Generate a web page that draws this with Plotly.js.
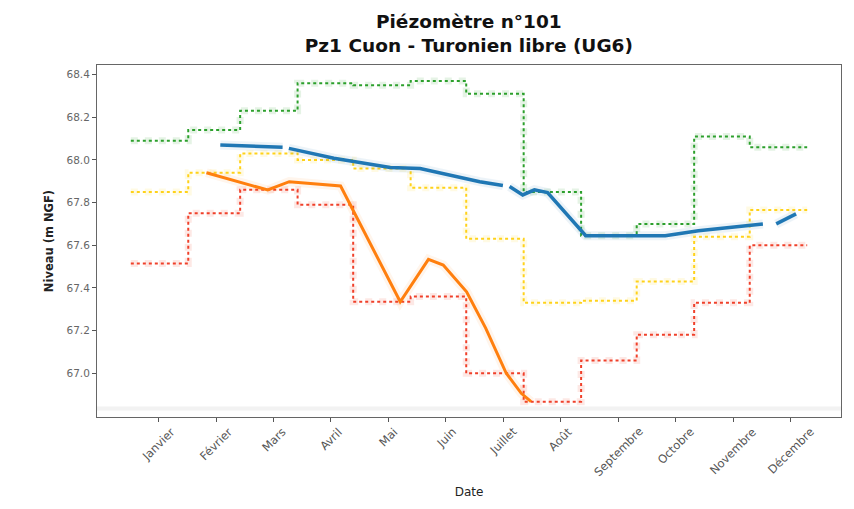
<!DOCTYPE html>
<html>
<head>
<meta charset="utf-8">
<script src="https://cdn.plot.ly/plotly-3.0.1.min.js"></script>
<style>html,body{margin:0;padding:0;background:#fff;}#chart{width:854px;height:509px;}</style>
</head>
<body>
<div id="chart"></div>
<script>
// Day-of-year (0 = 1 January) boundaries of each month
const monthStarts = [0, 31, 59, 90, 120, 151, 181, 212, 243, 273, 304, 334, 365];
const monthLabels = ["Janvier", "Février", "Mars", "Avril", "Mai", "Juin", "Juillet", "Août", "Septembre", "Octobre", "Novembre", "Décembre"];
const tickDays = [15, 46, 77, 108, 139, 170, 201, 232, 263, 294, 325, 356];

// Monthly reference levels (m NGF)
const greenLevels  = [68.09, 68.14, 68.23, 68.36, 68.35, 68.37, 68.31, 67.85, 67.645, 67.70, 68.11, 68.06];
const yellowLevels = [67.85, 67.94, 68.03, 68.00, 67.96, 67.87, 67.63, 67.33, 67.34, 67.43, 67.64, 67.765];
const redLevels    = [67.515, 67.75, 67.86, 67.79, 67.335, 67.36, 67.00, 66.867, 67.06, 67.18, 67.33, 67.60];

// Current-year measurements (blue) — null marks a gap
const blueDays   = [48.3, 81.9, 83.6, 85.3, 109.6, 140.0, 156.1, 188.3, 200.8, 202.6, 204.4, 211.5, 217.8, 224.9, 245.5, 288.4, 306.3, 320.6, 341.1, 344.7, 348.3, 359.0];
const blueLevels = [68.07, 68.059, null, 68.054, 68.008, 67.965, 67.96, 67.898, 67.88, null, 67.875, 67.836, 67.86, 67.847, 67.645, 67.645, 67.668, 67.682, 67.70, null, 67.70, 67.747];

// Previous-year measurements (orange)
const orangeDays   = [40.8, 73.9, 85.5, 113.2, 145.4, 160.6, 168.6, 181.2, 191.5, 202.6, 210.7, 216.0];
const orangeLevels = [67.94, 67.859, 67.898, 67.878, 67.335, 67.534, 67.507, 67.382, 67.212, 67.0, 66.906, 66.867];

// Faint reference line near the bottom
const baseLevel = 66.835;

const stepY = v => v.concat([v[v.length - 1]]);

function stepTraces(levels, color) {
  return [
    {x: monthStarts, y: stepY(levels), mode: "lines", line: {shape: "hv", color: color, width: 7, dash: "dot"}, opacity: 0.12, hoverinfo: "skip", showlegend: false},
    {x: monthStarts, y: stepY(levels), mode: "lines", line: {shape: "hv", color: color, width: 2, dash: "dot"}, showlegend: false}
  ];
}

const traces = [
  {x: [-18.25, 383.25], y: [baseLevel, baseLevel], mode: "lines", line: {color: "#f2f2f2", width: 4}, hoverinfo: "skip", showlegend: false},
  ...stepTraces(greenLevels, "#2ca02c"),
  ...stepTraces(yellowLevels, "#ffd21a"),
  ...stepTraces(redLevels, "#f0402a"),
  {x: orangeDays, y: orangeLevels, mode: "lines", line: {color: "#ff7f0e", width: 9}, opacity: 0.08, hoverinfo: "skip", showlegend: false},
  {x: orangeDays, y: orangeLevels, mode: "lines", line: {color: "#ff7f0e", width: 3}, showlegend: false},
  {x: blueDays, y: blueLevels, mode: "lines", connectgaps: false, line: {color: "#1f77b4", width: 9}, opacity: 0.08, hoverinfo: "skip", showlegend: false},
  {x: blueDays, y: blueLevels, mode: "lines", connectgaps: false, line: {color: "#1f77b4", width: 3.5}, showlegend: false}
];

const annotations = monthLabels.map((m, i) => ({
  x: tickDays[i], y: 0, xref: "x", yref: "paper",
  text: m, showarrow: false, textangle: -45,
  xanchor: "center", yanchor: "top", yshift: -5,
  font: {family: "DejaVu Sans", size: 11.5, color: "#555"}
}));

const layout = {
  width: 854, height: 509,
  margin: {l: 97, r: 13, t: 65, b: 92},
  paper_bgcolor: "#fff", plot_bgcolor: "#fff",
  font: {family: "DejaVu Sans", color: "#222"},
  title: {
    text: "<b>Piézomètre n°101</b><br><b>Pz1 Cuon - Turonien libre (UG6)</b>",
    x: 0.549, xanchor: "center", yref: "container", y: 0.945, yanchor: "top",
    font: {family: "DejaVu Sans", size: 18.5, color: "#111"}
  },
  xaxis: {
    range: [-18.25, 383.25], tickvals: tickDays, showticklabels: false,
    ticks: "outside", ticklen: 4, tickcolor: "#555",
    showgrid: false, zeroline: false,
    showline: true, mirror: true, linecolor: "#666", linewidth: 1,
    title: {text: "Date", font: {family: "DejaVu Sans", size: 12, color: "#222"}, standoff: 66}
  },
  yaxis: {
    range: [66.795, 68.445], tickvals: [67.0, 67.2, 67.4, 67.6, 67.8, 68.0, 68.2, 68.4],
    ticktext: ["67.0", "67.2", "67.4", "67.6", "67.8", "68.0", "68.2", "68.4"],
    ticks: "outside", ticklen: 4, tickcolor: "#555",
    tickfont: {family: "DejaVu Sans", size: 10.5, color: "#666"},
    showgrid: false, zeroline: false,
    showline: true, mirror: true, linecolor: "#666", linewidth: 1,
    title: {text: "<b>Niveau (m NGF)</b>", font: {family: "DejaVu Sans", size: 11.5, color: "#222"}, standoff: 10}
  },
  annotations: annotations
};

Plotly.newPlot("chart", traces, layout, {displayModeBar: false, staticPlot: true});
</script>
</body>
</html>
